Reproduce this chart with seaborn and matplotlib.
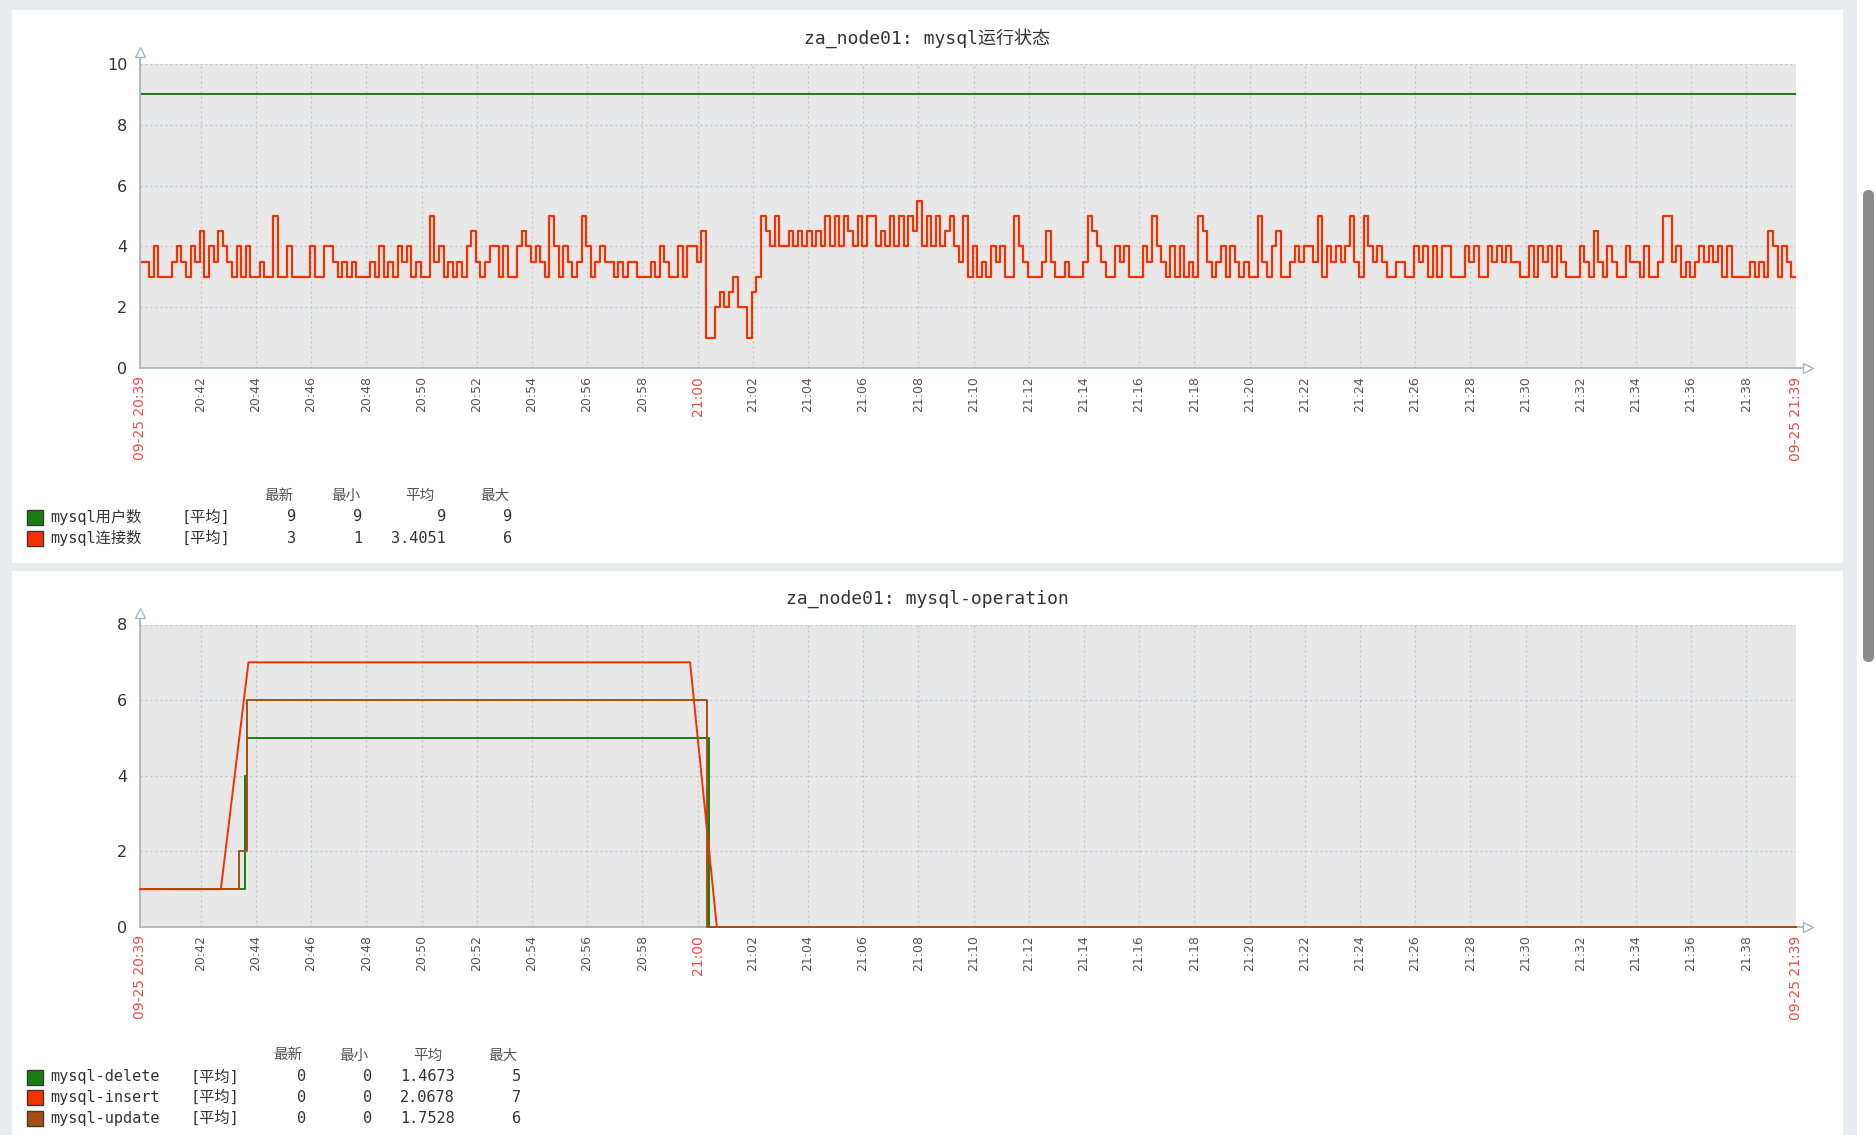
import numpy as np
import seaborn as sns
import matplotlib.pyplot as plt
from matplotlib.patches import Rectangle, FancyBboxPatch
from matplotlib.transforms import IdentityTransform

W, H = 1876, 1135

# time axis in minutes after 20:00 (window 20:39 .. 21:39)
t_start, t_end = 39.8, 99.8
tick_minutes = [39.8] + list(range(42, 100, 2)) + [99.8]
tick_labels = ["09-25 20:39", "20:42", "20:44", "20:46", "20:48", "20:50", "20:52",
               "20:54", "20:56", "20:58", "21:00", "21:02", "21:04", "21:06", "21:08",
               "21:10", "21:12", "21:14", "21:16", "21:18", "21:20", "21:22", "21:24",
               "21:26", "21:28", "21:30", "21:32", "21:34", "21:36", "21:38", "09-25 21:39"]
red_labels = ["09-25 20:39", "21:00", "09-25 21:39"]

# --- chart 1: mysql运行状态 ---
user_t = [39.8, 99.8]
user_vals = [9, 9]

conn_step = 10 / 60  # one value every 10 s
conn_vals = [
    3.5, 3.5, 3, 4, 3, 3, 3, 3.5, 4, 3.5, 3, 4,
    3.5, 4.5, 3, 4, 3.5, 4.5, 4, 3.5, 3, 4, 3, 4,
    3, 3, 3.5, 3, 3, 5, 3, 3, 4, 3, 3, 3,
    3, 4, 3, 3, 4, 4, 3.5, 3, 3.5, 3, 3.5, 3,
    3, 3, 3.5, 3, 4, 3, 3.5, 3, 4, 3.5, 4, 3,
    3.5, 3, 3, 5, 3.5, 4, 3, 3.5, 3, 3.5, 3, 4,
    4.5, 3.5, 3, 3.5, 4, 4, 3, 4, 3, 3, 4, 4.5,
    4, 3.5, 4, 3.5, 3, 5, 4, 3, 4, 3.5, 3, 3.5,
    5, 4, 3, 3.5, 4, 3.5, 3.5, 3, 3.5, 3, 3.5, 3.5,
    3, 3, 3, 3.5, 3, 4, 3.5, 3, 3, 4, 3, 4,
    4, 3.5, 4.5, 1, 1, 2, 2.5, 2, 2.5, 3, 2, 2,
    1, 2.5, 3, 5, 4.5, 4, 5, 4, 4, 4.5, 4, 4.5,
    4, 4.5, 4, 4.5, 4, 5, 4, 5, 4, 5, 4.5, 4,
    5, 4, 5, 5, 4, 4.5, 4, 5, 4, 5, 4, 5,
    4.5, 5.5, 4, 5, 4, 5, 4, 4.5, 5, 4, 3.5, 5,
    3, 4, 3, 3.5, 3, 4, 3.5, 4, 3, 3, 5, 4,
    3.5, 3, 3, 3, 3.5, 4.5, 3.5, 3, 3, 3.5, 3, 3,
    3, 3.5, 5, 4.5, 4, 3.5, 3, 3, 4, 3.5, 4, 3,
    3, 3, 4, 3.5, 5, 4, 3.5, 3, 4, 3, 4, 3,
    3.5, 3, 5, 4.5, 3.5, 3, 3.5, 4, 3, 4, 3.5, 3,
    3.5, 3, 3, 5, 3.5, 3, 4, 4.5, 3, 3, 3.5, 4,
    3.5, 4, 4, 3.5, 5, 3, 4, 3.5, 4, 3.5, 4, 5,
    3.5, 3, 5, 4, 3.5, 4, 3.5, 3, 3, 3.5, 3.5, 3,
    3, 4, 3.5, 4, 3, 4, 3, 4, 4, 3, 3, 3,
    4, 3.5, 4, 3, 3, 4, 3.5, 4, 3.5, 4, 3.5, 3.5,
    3, 3, 4, 3, 4, 3.5, 4, 3, 4, 3.5, 3, 3,
    3, 4, 3.5, 3, 4.5, 3.5, 3, 4, 3.5, 3, 3, 4,
    3.5, 3.5, 3, 4, 3, 3, 3.5, 5, 5, 3.5, 4, 3,
    3.5, 3, 3.5, 4, 3.5, 4, 3.5, 4, 3, 4, 3, 3,
    3, 3, 3.5, 3, 3.5, 3, 4.5, 4, 3, 4, 3.5, 3,
]

legend1_names = ["mysql用户数", "mysql连接数"]
legend1_latest = [9, 3]
legend1_min = [9, 1]
legend1_avg = [9, 3.4051]
legend1_max = [9, 6]

# --- chart 2: mysql-operation ---
delete_t = [39.8, 43.62, 43.66, 60.42, 99.8]
delete_vals = [1, 4, 5, 0, 0]
insert_t = [39.8, 42.73, 43.73, 59.73, 60.7, 99.8]
insert_vals = [1, 1, 7, 7, 0, 0]
update_t = [40.6, 43.38, 43.67, 60.35, 99.8]
update_vals = [1, 2, 6, 0, 0]

legend2_names = ["mysql-delete", "mysql-insert", "mysql-update"]
legend2_latest = [0, 0, 0]
legend2_min = [0, 0, 0]
legend2_avg = [1.4673, 2.0678, 1.7528]
legend2_max = [5, 7, 6]

stat_headers = ["最新", "最小", "平均", "最大"]

GREEN, RED, BROWN = "#1A7C11", "#F63100", "#A54F10"
AXIS_C = "#a9b7c2"
GRID_C = "#b8c3cd"
MONO = ["DejaVu Sans Mono", "Noto Sans CJK SC"]

sns.set_theme(style="white")
plt.rcParams["font.family"] = ["DejaVu Sans", "Noto Sans CJK SC"]


def fx(x):
    return x / W


def fy(y):
    return 1 - y / H


fig = plt.figure(figsize=(W / 100, H / 100), dpi=100, facecolor="#e9ecef")

# page cards + scrollbar
for y0, y1 in [(10, 563), (571, 1135)]:
    fig.add_artist(Rectangle((fx(12), fy(y1)), (1843 - 12) / W, (y1 - y0) / H,
                             transform=fig.transFigure, facecolor="white",
                             edgecolor="none", zorder=-2))
fig.add_artist(Rectangle((fx(1857), 0), 19 / W, 1, transform=fig.transFigure,
                         facecolor="white", edgecolor="none", zorder=-2))
fig.add_artist(FancyBboxPatch((1863, H - 662), 11, 472,
                              boxstyle="round,pad=0,rounding_size=5.5",
                              transform=IdentityTransform(),
                              facecolor="#8c8c8c", edgecolor="none", zorder=-1))


def style_axes(ax, ymax):
    ax.set_facecolor("#e8e8e8")
    ax.set_xlim(t_start, t_end)
    ax.set_ylim(0, ymax)
    ax.set_xticks(tick_minutes)
    ax.set_xticklabels(tick_labels, rotation=90)
    ax.set_yticks(range(0, ymax + 1, 2))
    ax.set_xlabel("")
    ax.set_ylabel("")
    ax.grid(True, color=GRID_C, linestyle=(0, (1.5, 2.5)), linewidth=0.9)
    ax.set_axisbelow(True)
    for s in ["top", "right"]:
        ax.spines[s].set_visible(False)
    for s in ["left", "bottom"]:
        ax.spines[s].set_color(AXIS_C)
        ax.spines[s].set_linewidth(1.3)
    ax.tick_params(axis="both", length=4, width=1, color=AXIS_C)
    ax.tick_params(axis="y", labelsize=11.5, labelcolor="#333333", pad=5)
    ax.tick_params(axis="x", labelsize=9, labelcolor="#555555", pad=2)
    for lbl in ax.get_xticklabels():
        if lbl.get_text() in red_labels:
            lbl.set_color("#f04848")
            lbl.set_fontsize(10)
    # axis arrows
    bb = ax.get_position()
    axh = bb.height * H
    axw = bb.width * W
    ax.plot([0, 0], [1, 1 + 8 / axh], transform=ax.transAxes, clip_on=False,
            color=AXIS_C, lw=1.3)
    ax.plot([0], [1 + 12 / axh], marker="^", ms=7, mfc="white", mec=AXIS_C,
            mew=1, transform=ax.transAxes, clip_on=False)
    ax.plot([1, 1 + 8 / axw], [0, 0], transform=ax.transAxes, clip_on=False,
            color=AXIS_C, lw=1.3)
    ax.plot([1 + 12 / axw], [0], marker=">", ms=7, mfc="white", mec=AXIS_C,
            mew=1, transform=ax.transAxes, clip_on=False)


def draw_legend(names, colors, cols, y_head, y_rows, x_tag, x_vals, x_heads):
    for hdr, xh in zip(stat_headers, x_heads):
        fig.text(fx(xh), fy(y_head), hdr, ha="center", va="center", fontsize=10.5,
                 family=MONO, color="#555555")
    for i, (name, col) in enumerate(zip(names, colors)):
        yr = y_rows[i]
        fig.add_artist(Rectangle((fx(27), fy(yr + 8)), 16 / W, 15 / H,
                                 transform=fig.transFigure, facecolor=col,
                                 edgecolor="#3a3a3a", lw=1))
        fig.text(fx(50), fy(yr), name, ha="left", va="center", fontsize=11,
                 family=MONO, color="#333333")
        fig.text(fx(x_tag), fy(yr), "[平均]", ha="left", va="center", fontsize=11,
                 family=MONO, color="#333333")
        for vals, xv in zip(cols, x_vals):
            fig.text(fx(xv), fy(yr), f"{vals[i]:g}", ha="right", va="center",
                     fontsize=11, family=MONO, color="#333333")


# ---------------- chart 1 ----------------
ax1 = fig.add_axes([fx(140), fy(368), (1796 - 140) / W, (368 - 64) / H])
conn_t = t_start + np.arange(len(conn_vals) + 1) * conn_step
conn_y = conn_vals + [conn_vals[-1]]
sns.lineplot(x=user_t, y=user_vals, ax=ax1, color=GREEN, lw=1.4, legend=False)
sns.lineplot(x=conn_t, y=conn_y, ax=ax1, color=RED, lw=1.6,
             drawstyle="steps-post", legend=False)
style_axes(ax1, 10)
fig.text(fx(927), fy(38), "za_node01: mysql运行状态", ha="center", va="center",
         fontsize=13, family=MONO, color="#333333")
draw_legend(legend1_names, [GREEN, RED],
            [legend1_latest, legend1_min, legend1_avg, legend1_max],
            495, [516.7, 538.3], 181, [296, 362, 446, 512], [279, 346, 420, 495])

# ---------------- chart 2 ----------------
ax2 = fig.add_axes([fx(140), fy(927), (1796 - 140) / W, (927 - 624.5) / H])
sns.lineplot(x=delete_t, y=delete_vals, ax=ax2, color=GREEN, lw=1.4,
             drawstyle="steps-post", legend=False, clip_on=False, zorder=3)
sns.lineplot(x=insert_t, y=insert_vals, ax=ax2, color=RED, lw=1.4, legend=False,
             clip_on=False, zorder=3)
sns.lineplot(x=update_t, y=update_vals, ax=ax2, color=BROWN, lw=1.4,
             drawstyle="steps-post", legend=False, clip_on=False, zorder=3)
style_axes(ax2, 8)
fig.text(fx(927), fy(599), "za_node01: mysql-operation", ha="center", va="center",
         fontsize=13, family=MONO, color="#333333")
draw_legend(legend2_names, [GREEN, RED, BROWN],
            [legend2_latest, legend2_min, legend2_avg, legend2_max],
            1055, [1076.7, 1097.3, 1118.3], 190, [306, 372, 455, 521],
            [288, 354, 428, 503])

fig.savefig("out.png", dpi=100, facecolor=fig.get_facecolor())
